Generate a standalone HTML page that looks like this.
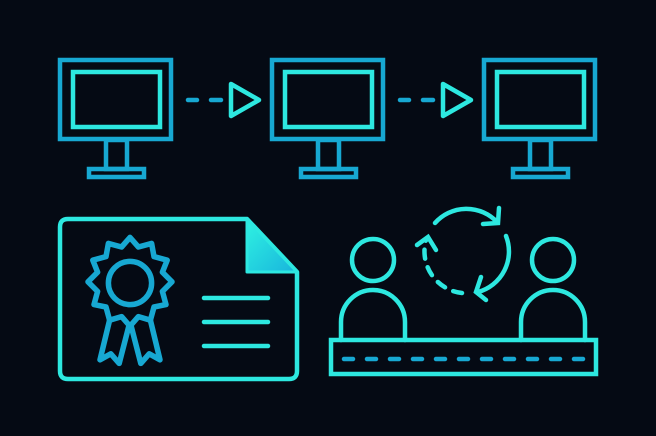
<!DOCTYPE html>
<html><head><style>html,body{margin:0;padding:0;background:#050a14;}svg{display:block}</style></head>
<body>
<svg width="656" height="436" viewBox="0 0 656 436" xmlns="http://www.w3.org/2000/svg">
<defs>
<linearGradient id="g" x1="0" y1="0" x2="1" y2="1"><stop offset="0" stop-color="#2ff2e2"/><stop offset="1" stop-color="#18b4dc"/></linearGradient>
<g id="mon">
<rect x="60" y="60" width="111" height="79" fill="none" stroke="#17a8d2" stroke-width="4.5"/>
<rect x="73" y="72" width="87" height="55" fill="none" stroke="#2de8e0" stroke-width="4.5"/>
<rect x="106" y="140" width="21" height="29" fill="none" stroke="#17a8d2" stroke-width="4.5"/>
<rect x="89" y="169" width="55" height="8" fill="none" stroke="#17a8d2" stroke-width="4.5"/>
</g>
<g id="arr">
<path d="M188 100H197M211 100H221" stroke="#17a8d2" stroke-width="4.5" stroke-linecap="round"/>
<path d="M231 84L259 100L231 116Z" fill="none" stroke="#2de8e0" stroke-width="4.5" stroke-linejoin="round"/>
</g>
</defs>
<rect width="656" height="436" fill="#050a14"/>
<use href="#mon"/><use href="#mon" x="212"/><use href="#mon" x="424"/>
<use href="#arr"/><use href="#arr" x="212"/>
<!-- certificate -->
<path d="M247 219H68Q60 219 60 227V371Q60 379 68 379H289Q297 379 297 371V272Z" fill="none" stroke="#2de8e0" stroke-width="4.5" stroke-linejoin="round"/>
<path d="M247 219L297 272H247Z" fill="url(#g)" stroke="#2de8e0" stroke-width="3" stroke-linejoin="round"/>
<path d="M204 298H268M204 322H268M204 346H268" stroke="#2de8e0" stroke-width="4.5" stroke-linecap="round"/>
<g transform="translate(130,283) scale(1.2) translate(-130,-284)" stroke="#17a8d2" stroke-width="4.6" fill="none" stroke-linejoin="round" stroke-linecap="round">
<path d="M130 246 L137 254 L148 251 L150 262 L161 265 L157 275 L165 283 L157 291 L160 302 L150 304 L147 315 L137 312 L130 320 L123 312 L113 315 L110 304 L100 302 L103 291 L95 283 L103 275 L99 265 L110 262 L112 251 L123 254 Z"/>
<circle cx="130" cy="284" r="18"/>
<path d="M113 315 L105 348 L114 343 L121 351 L129 320"/>
<path d="M147 315 L155 348 L146 343 L139 351 L131 320"/>
</g>
<!-- people -->
<g fill="none" stroke="#2de8e0" stroke-width="4.5" stroke-linecap="round">
<circle cx="373" cy="260" r="21"/>
<circle cx="553" cy="260" r="21"/>
<path d="M341 340V322A32 32 0 0 1 405 322V340"/>
<path d="M521 340V322A32 32 0 0 1 585 322V340"/>
<rect x="331" y="340" width="265" height="34"/>
<path d="M435 223A42 42 0 0 1 497 222M499 208L498 223L483 224"/>
<path d="M506 236A42 42 0 0 1 478 292M481 277L476 292L486 300"/>
<path d="M462 293A42 42 0 0 1 426 240" stroke-dasharray="9 9"/>
<path d="M417 245L428 237L436 250"/>
</g>
<path d="M344 359H584" stroke="#17a8d2" stroke-width="4.5" stroke-dasharray="9 14" stroke-linecap="round"/>
</svg>
</body></html>
